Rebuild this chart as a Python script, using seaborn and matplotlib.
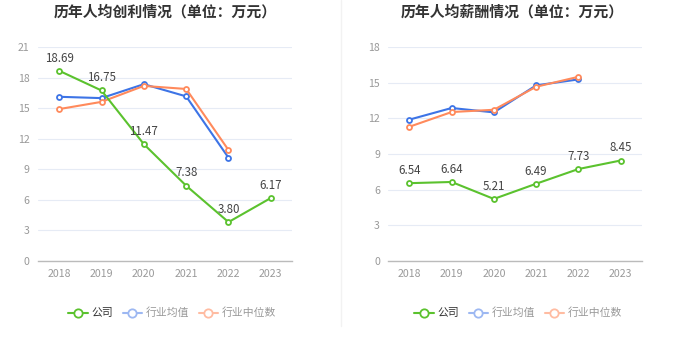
import matplotlib
matplotlib.use("Agg")
import matplotlib.pyplot as plt
from matplotlib.lines import Line2D
import seaborn as sns
import pandas as pd
import numpy as np

years = ["2018", "2019", "2020", "2021", "2022", "2023"]
series_names = ["公司", "行业均值", "行业中位数"]

profit_company = [18.69, 16.75, 11.47, 7.38, 3.80, 6.17]
profit_mean = [16.13, 16.0, 17.37, 16.17, 10.13, np.nan]
profit_median = [14.92, 15.63, 17.2, 16.9, 10.89, np.nan]

salary_company = [6.54, 6.64, 5.21, 6.49, 7.73, 8.45]
salary_mean = [11.9, 12.88, 12.51, 14.79, 15.29, np.nan]
salary_median = [11.3, 12.54, 12.73, 14.67, 15.51, np.nan]

titles = ["历年人均创利情况（单位：万元）", "历年人均薪酬情况（单位：万元）"]

colors = {"公司": "#5BC22E", "行业均值": "#3D74E6", "行业中位数": "#FF8A5C"}
legend_colors = {"公司": "#5BC22E", "行业均值": "#9DB8F2", "行业中位数": "#FFBCA2"}

sns.set_style("white")
plt.rcParams["font.family"] = ["Noto Sans CJK SC", "DejaVu Sans"]

fig = plt.figure(figsize=(6.8, 3.49), dpi=100)

panels = [
    (profit_company, profit_mean, profit_median, 21, [38, 292], 165),
    (salary_company, salary_mean, salary_median, 18, [388.3, 641.7], 512),
]

W, H = 680, 349
for i, (comp, mean, med, ymax, xr, tx) in enumerate(panels):
    ax = fig.add_axes([xr[0] / W, (H - 260.7) / H, (xr[1] - xr[0]) / W, 213.4 / H])
    df = pd.DataFrame({
        "x": list(range(6)) * 3,
        "value": list(comp) + list(mean) + list(med),
        "series": [s for s in series_names for _ in range(6)],
    })
    for s in ["行业均值", "行业中位数", "公司"]:
        sub = df[df["series"] == s].dropna()
        sns.lineplot(data=sub, x="x", y="value", ax=ax, color=colors[s],
                     marker="o", markersize=3.6, markerfacecolor="white",
                     markeredgecolor=colors[s], markeredgewidth=1.3,
                     linewidth=1.5, legend=False, zorder=3 if s == "公司" else 2)
    for xi, v in enumerate(comp):
        ax.annotate(f"{v:.2f}", (xi, v), xytext=(0, 4.5), textcoords="offset points",
                    ha="center", va="bottom", fontsize=8.3, color="#444444")
    ax.set_xlim(-0.5, 5.5)
    ax.set_ylim(0, ymax)
    ax.set_yticks(range(0, ymax + 1, 3))
    ax.set_xticks(range(6))
    ax.set_xticklabels(years)
    ax.set_xlabel("")
    ax.set_ylabel("")
    ax.grid(axis="y", color="#E6EBF5", linewidth=0.8)
    ax.set_axisbelow(True)
    for sp in ["top", "right", "left"]:
        ax.spines[sp].set_visible(False)
    ax.spines["bottom"].set_color("#BBBBBB")
    ax.spines["bottom"].set_linewidth(1)
    ax.tick_params(axis="both", length=0, labelsize=7.6, colors="#999999", pad=6)
    fig.text(tx / W, 1 - 12 / H, titles[i], ha="center", va="center",
             fontsize=10.7, fontweight="bold", color="#333333")

    handles = [Line2D([0], [0], color=legend_colors[s], marker="o", markersize=6,
                      markerfacecolor="white", markeredgecolor=legend_colors[s],
                      markeredgewidth=1.3, linewidth=1.5) for s in series_names]
    lx = 172 if i == 0 else 518
    leg = fig.legend(handles, series_names, loc="center", bbox_to_anchor=(lx / W, 1 - 313 / H),
                     ncol=3, frameon=False, fontsize=7.8, handlelength=1.8,
                     handletextpad=0.3, columnspacing=0.9)
    for t, c in zip(leg.get_texts(), ["#333333", "#999999", "#999999"]):
        t.set_color(c)

fig.add_artist(Line2D([341 / W, 341 / W], [1 - 326 / H, 1.0], transform=fig.transFigure,
                      color="#F2F2F2", linewidth=1))

fig.savefig("out.png", dpi=100, facecolor="white")
